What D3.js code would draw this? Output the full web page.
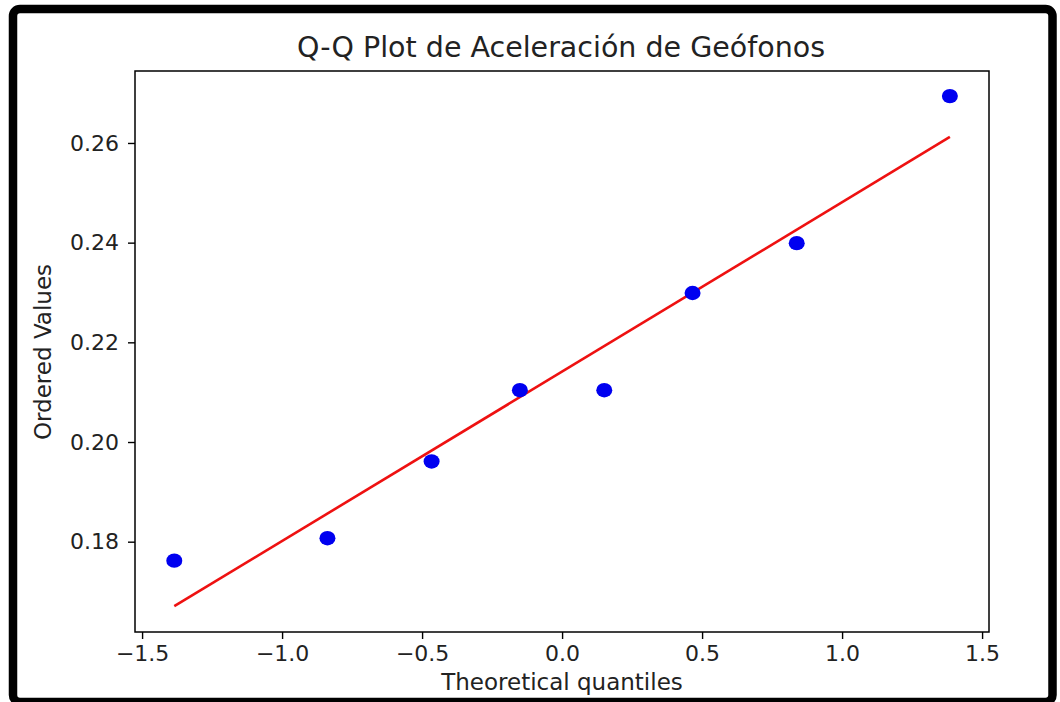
<!DOCTYPE html>
<html><head><meta charset="utf-8">
<script src="https://cdn.jsdelivr.net/npm/d3@7/dist/d3.min.js"></script>
<style>
html,body{margin:0;padding:0;background:#fff;}
text{font-family:"DejaVu Sans",sans-serif;fill:#222;}
</style></head>
<body>
<svg id="c" width="1060" height="702"></svg>
<script>
// Data
const theoreticalQuantiles = [-1.385, -0.838, -0.466, -0.1507, 0.1507, 0.466, 0.838, 1.385];
const orderedValues = [0.1762, 0.1807, 0.1961, 0.2104, 0.2104, 0.2299, 0.2399, 0.2694];
const xTicks = [-1.5, -1.0, -0.5, 0.0, 0.5, 1.0, 1.5];
const yTicks = [0.18, 0.20, 0.22, 0.24, 0.26];
const titleText = "Q-Q Plot de Aceleración de Geófonos";
const xLabel = "Theoretical quantiles";
const yLabel = "Ordered Values";

// least squares fit line
const n = theoreticalQuantiles.length;
const mx = d3.mean(theoreticalQuantiles), my = d3.mean(orderedValues);
let sxy = 0, sxx = 0;
for (let i = 0; i < n; i++) { sxy += (theoreticalQuantiles[i]-mx)*(orderedValues[i]-my); sxx += (theoreticalQuantiles[i]-mx)**2; }
const slope = sxy/sxx, intercept = my - slope*mx;
const xExt = d3.extent(theoreticalQuantiles);
const fitLine = xExt.map(x => [x, intercept + slope*x]);

const svg = d3.select("#c");
const L = 135, R = 989, T = 71, B = 632;
const x = d3.scaleLinear().domain([-1.5253, 1.5247]).range([L, R]);
const y = d3.scaleLinear().domain([0.16188, 0.27444]).range([B, T]);

// outer border
svg.append("rect").attr("x", 13).attr("y", 9).attr("width", 1039.5).attr("height", 693)
  .attr("rx", 7).attr("fill", "none").attr("stroke", "#000").attr("stroke-width", 8.5);

// axes
const xAxis = svg.append("g").attr("transform", `translate(0,${B})`)
  .call(d3.axisBottom(x).tickValues(xTicks).tickSizeOuter(0).tickSizeInner(7).tickPadding(6)
    .tickFormat(d => d3.format(".1f")(d).replace("-", "\u2212")));
const yAxis = svg.append("g").attr("transform", `translate(${L},0)`)
  .call(d3.axisLeft(y).tickValues(yTicks).tickSizeOuter(0).tickSizeInner(7).tickPadding(9)
    .tickFormat(d3.format(".2f")));
[xAxis, yAxis].forEach(g => {
  g.select(".domain").remove();
  g.selectAll(".tick line").attr("stroke", "#000").attr("stroke-width", 1.4);
  g.selectAll(".tick text").attr("font-size", 22).attr("fill", "#222")
    .style("font-family", "DejaVu Sans");
});

// frame
svg.append("rect").attr("x", L).attr("y", T).attr("width", R-L).attr("height", B-T)
  .attr("fill", "none").attr("stroke", "#000").attr("stroke-width", 1.5);

// line
svg.append("path").datum(fitLine)
  .attr("d", d3.line().x(d => x(d[0])).y(d => y(d[1])))
  .attr("stroke", "#ee1111").attr("stroke-width", 2.6).attr("fill", "none");

// points
svg.append("g").selectAll("ellipse").data(theoreticalQuantiles.map((q,i)=>[q, orderedValues[i]]))
  .join("ellipse").attr("cx", d => x(d[0])).attr("cy", d => y(d[1]))
  .attr("rx", 8).attr("ry", 7.2).attr("fill", "#0000f0");

// title and labels
svg.append("text").attr("x", 561).attr("y", 57).attr("text-anchor", "middle")
  .attr("font-size", 28.5).text(titleText);
svg.append("text").attr("x", 562).attr("y", 690).attr("text-anchor", "middle")
  .attr("font-size", 23).text(xLabel);
svg.append("text").attr("transform", "translate(51,352) rotate(-90)").attr("text-anchor", "middle")
  .attr("font-size", 23).text(yLabel);
</script>
</body></html>
